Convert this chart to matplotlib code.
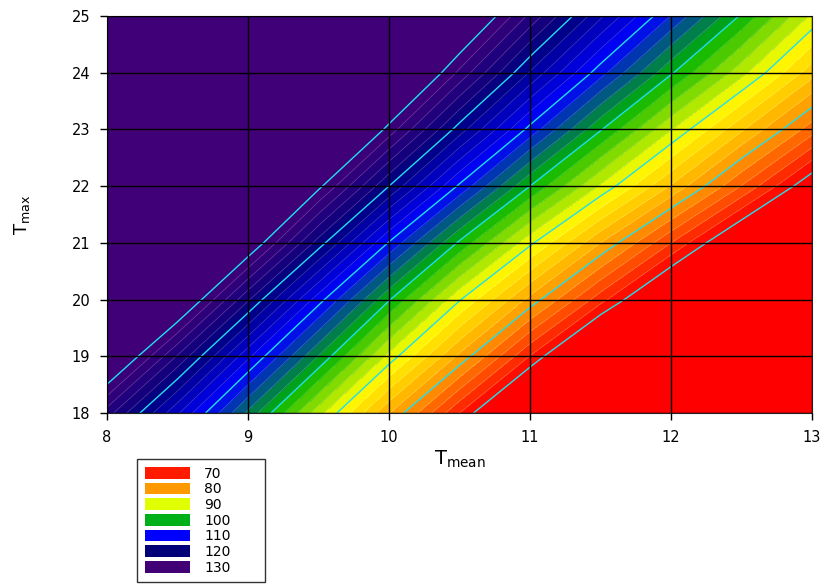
import numpy as np
import matplotlib
matplotlib.use('Agg')
import matplotlib.pyplot as plt
from matplotlib.colors import LinearSegmentedColormap, Normalize
from matplotlib.patches import Patch

plt.rcParams['font.family'] = ['DejaVu Sans']

# grid (values outside 70..130 are clipped in the chart)
tmean = [8.0, 8.5, 9.0, 9.5, 10.0, 10.5, 11.0, 11.5, 12.0, 12.5, 13.0]
tmax = [18, 19, 20, 21, 22, 23, 24, 25]
index_values = [
    [125.0, 114.3, 103.5, 92.8, 82.1, 72.0, 62.0, 52.0, 42.0, 32.0, 22.0],
    [134.9, 123.8, 112.5, 101.9, 91.3, 81.5, 71.9, 62.3, 52.7, 43.1, 33.5],
    [145.6, 134.0, 122.3, 110.9, 100.2, 90.2, 81.3, 72.8, 64.5, 56.2, 47.8],
    [155.2, 143.9, 132.5, 121.1, 109.8, 99.6, 90.5, 82.0, 74.0, 66.0, 58.1],
    [162.6, 151.9, 141.3, 130.6, 120.0, 109.6, 100.0, 91.7, 83.8, 75.9, 67.9],
    [170.0, 159.8, 149.6, 139.4, 129.2, 119.0, 109.3, 100.2, 92.1, 84.3, 76.9],
    [176.5, 166.7, 156.9, 147.1, 137.3, 127.5, 117.8, 108.8, 100.3, 92.7, 84.8],
    [182.2, 172.7, 163.3, 153.8, 144.4, 134.9, 125.5, 116.4, 107.9, 99.7, 91.6],
]

legend_levels = [70, 80, 90, 100, 110, 120, 130]
map_colors = ['#ff0000', '#ff9900', '#ffff00', '#00b400', '#0000ff', '#000080', '#400078']
legend_colors = ['#ff1a00', '#ff9900', '#e0ff00', '#00b018', '#0000ff', '#000078', '#420077']

cmap = LinearSegmentedColormap.from_list('idx', list(zip(np.linspace(0, 1, 7), map_colors)))
cmap.set_under(map_colors[0])
cmap.set_over(map_colors[-1])
norm = Normalize(70, 130)

fig = plt.figure(figsize=(8.25, 5.88), dpi=100)
ax = fig.add_axes([107/825, 1-413/588, 705/825, 397/588])

X, Y = np.meshgrid(tmean, tmax)
Z = np.array(index_values)
fine = np.arange(70, 131, 2)
ax.contourf(X, Y, Z, levels=fine, cmap=cmap, norm=norm, extend='both')
thin = [v for v in fine if v % 10 != 0]
ax.contour(X, Y, Z, levels=thin, colors='white', alpha=0.25, linewidths=0.5)
ax.contour(X, Y, Z, levels=legend_levels, colors='#20e0f0', linewidths=1.0)

ax.set_xlim(8, 13)
ax.set_ylim(18, 25)
ax.set_xticks(range(8, 14))
ax.set_yticks(range(18, 26))
ax.set_axisbelow(False)
ax.grid(True, color='black', linewidth=1.0)
ax.tick_params(direction='out', length=5, width=1, labelsize=10.5, pad=7)
for s in ax.spines.values():
    s.set_color('#222222')

ax.set_xlabel(r'$\mathregular{T_{mean}}$', fontsize=14)
ax.xaxis.set_label_coords(0.5, -0.09)
ax.set_ylabel(r'$\mathregular{T_{max}}$', fontsize=13)
ax.yaxis.set_label_coords(-0.106, 0.5)

handles = [Patch(facecolor=c, edgecolor='none') for c in legend_colors]
labels = [str(v) for v in legend_levels]
leg = fig.legend(handles, labels, loc='upper left',
                 bbox_to_anchor=(137/825, 1-585/588, 128/825, 126/588),
                 mode='expand', borderaxespad=0, fontsize=10,
                 handlelength=3.3, handleheight=0.9, handletextpad=1.0,
                 labelspacing=0.12, borderpad=0.55, fancybox=False,
                 edgecolor='#333333', framealpha=1)
leg.get_frame().set_linewidth(1.0)

fig.savefig('out.png', dpi=100)
